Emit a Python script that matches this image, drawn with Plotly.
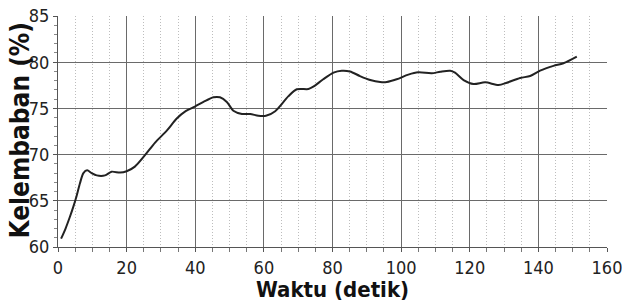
import plotly.graph_objects as go

waktu = [0.9, 2.2, 3.5, 4.5, 5.4, 6.4, 7.4, 8.5, 9.8, 11.3, 13.7, 15.6, 18.1, 20.0, 22.4,
         25.4, 28.3, 31.7, 34.6, 37.2, 39.9, 42.4, 45.3, 47.2, 49.2, 51.1, 53.6, 56.0,
         58.4, 60.6, 63.3, 67.1, 69.6, 73.0, 74.4, 77.3, 80.3, 82.7, 85.1, 88.0, 91.0,
         93.9, 95.8, 98.7, 102.1, 105.0, 108.9, 111.4, 114.3, 115.7, 118.2, 121.1, 124.5,
         128.4, 130.8, 134.7, 137.6, 140.5, 144.4, 147.3, 151.2]
kelembaban = [60.9, 62.0, 63.3, 64.4, 65.5, 66.9, 68.0, 68.3, 68.0, 67.75, 67.75, 68.15,
              68.05, 68.2, 68.7, 69.96, 71.3, 72.6, 73.9, 74.7, 75.2, 75.7, 76.2, 76.2,
              75.7, 74.75, 74.4, 74.4, 74.2, 74.2, 74.7, 76.3, 77.07, 77.1, 77.35, 78.15,
              78.87, 79.08, 79.0, 78.5, 78.07, 77.86, 77.86, 78.15, 78.65, 78.9, 78.8,
              78.97, 79.08, 78.87, 78.07, 77.64, 77.82, 77.53, 77.78, 78.3, 78.5, 79.08,
              79.6, 79.88, 80.6]

x_ticks = [0, 20, 40, 60, 80, 100, 120, 140, 160]
y_ticks = [60, 65, 70, 75, 80, 85]
x_grid = [20, 40, 60, 80, 100, 120, 140]
y_grid = [65, 70, 75, 80]
x_range = [0, 160]
y_range = [60, 85]

fig = go.Figure()
fig.add_trace(go.Scatter(x=waktu, y=kelembaban, mode="lines",
                         line=dict(color="#222222", width=2, shape="spline", smoothing=0.8),
                         showlegend=False, hoverinfo="skip"))
# invisible trace to activate the grid axes
fig.add_trace(go.Scatter(x=[x_range[0]], y=[y_range[0]], xaxis="x2", yaxis="y2",
                         mode="markers", marker=dict(opacity=0), showlegend=False,
                         hoverinfo="skip"))

tick_font = dict(family="DejaVu Sans Condensed, DejaVu Sans", size=18, color="#222222")
title_family = "DejaVu Sans Condensed, DejaVu Sans"

fig.update_layout(
    width=622, height=304,
    margin=dict(l=58, r=15, t=16, b=57),
    paper_bgcolor="white", plot_bgcolor="white",
    xaxis=dict(
        range=x_range, tickvals=x_ticks, ticktext=[str(v) for v in x_ticks],
        showgrid=False, automargin=False, ticklabeloverflow="allow",
        showline=True, linecolor="#555555", linewidth=1,
        ticks="outside", ticklen=4, tickcolor="#555555",
        minor=dict(dtick=5, showgrid=True, gridcolor="#bdbdbd", griddash="1px,2px",
                   ticks="outside", ticklen=4, tickcolor="#777777"),
        tickfont=tick_font, zeroline=False,
    ),
    yaxis=dict(
        range=y_range, tickvals=y_ticks, ticktext=[str(v) for v in y_ticks],
        showgrid=False, automargin=False, ticklabeloverflow="allow",
        showline=True, linecolor="#555555", linewidth=1,
        ticks="outside", ticklen=4, tickcolor="#555555",
        minor=dict(dtick=1, showgrid=False, ticks="outside", ticklen=3, tickcolor="#888888"),
        tickfont=tick_font, zeroline=False,
    ),
    xaxis2=dict(overlaying="x", range=x_range, tickvals=x_grid, showticklabels=False,
                showgrid=True, gridcolor="#6a6a6a", gridwidth=1, ticks="",
                showline=False, zeroline=False, automargin=False),
    yaxis2=dict(overlaying="y", range=y_range, tickvals=y_grid, showticklabels=False,
                showgrid=True, gridcolor="#6a6a6a", gridwidth=1, ticks="",
                showline=False, zeroline=False, automargin=False),
    annotations=[
        dict(text="<b>Waktu (detik)</b>", xref="paper", yref="paper", x=0.5, y=-0.185,
             xanchor="center", yanchor="middle", showarrow=False,
             font=dict(family=title_family, size=22, color="#111111")),
        dict(text="<b>Kelembaban (%)</b>", xref="paper", yref="paper", x=-0.069, y=0.505,
             xanchor="center", yanchor="middle", showarrow=False, textangle=-90,
             font=dict(family=title_family, size=26, color="#111111")),
    ],
)

# remove the browser's default 8px page margin so the figure fills the window
fig.write_html("out.html", config={"displayModeBar": False},
               post_script="document.body.style.margin='0px';document.body.style.overflow='hidden';")
